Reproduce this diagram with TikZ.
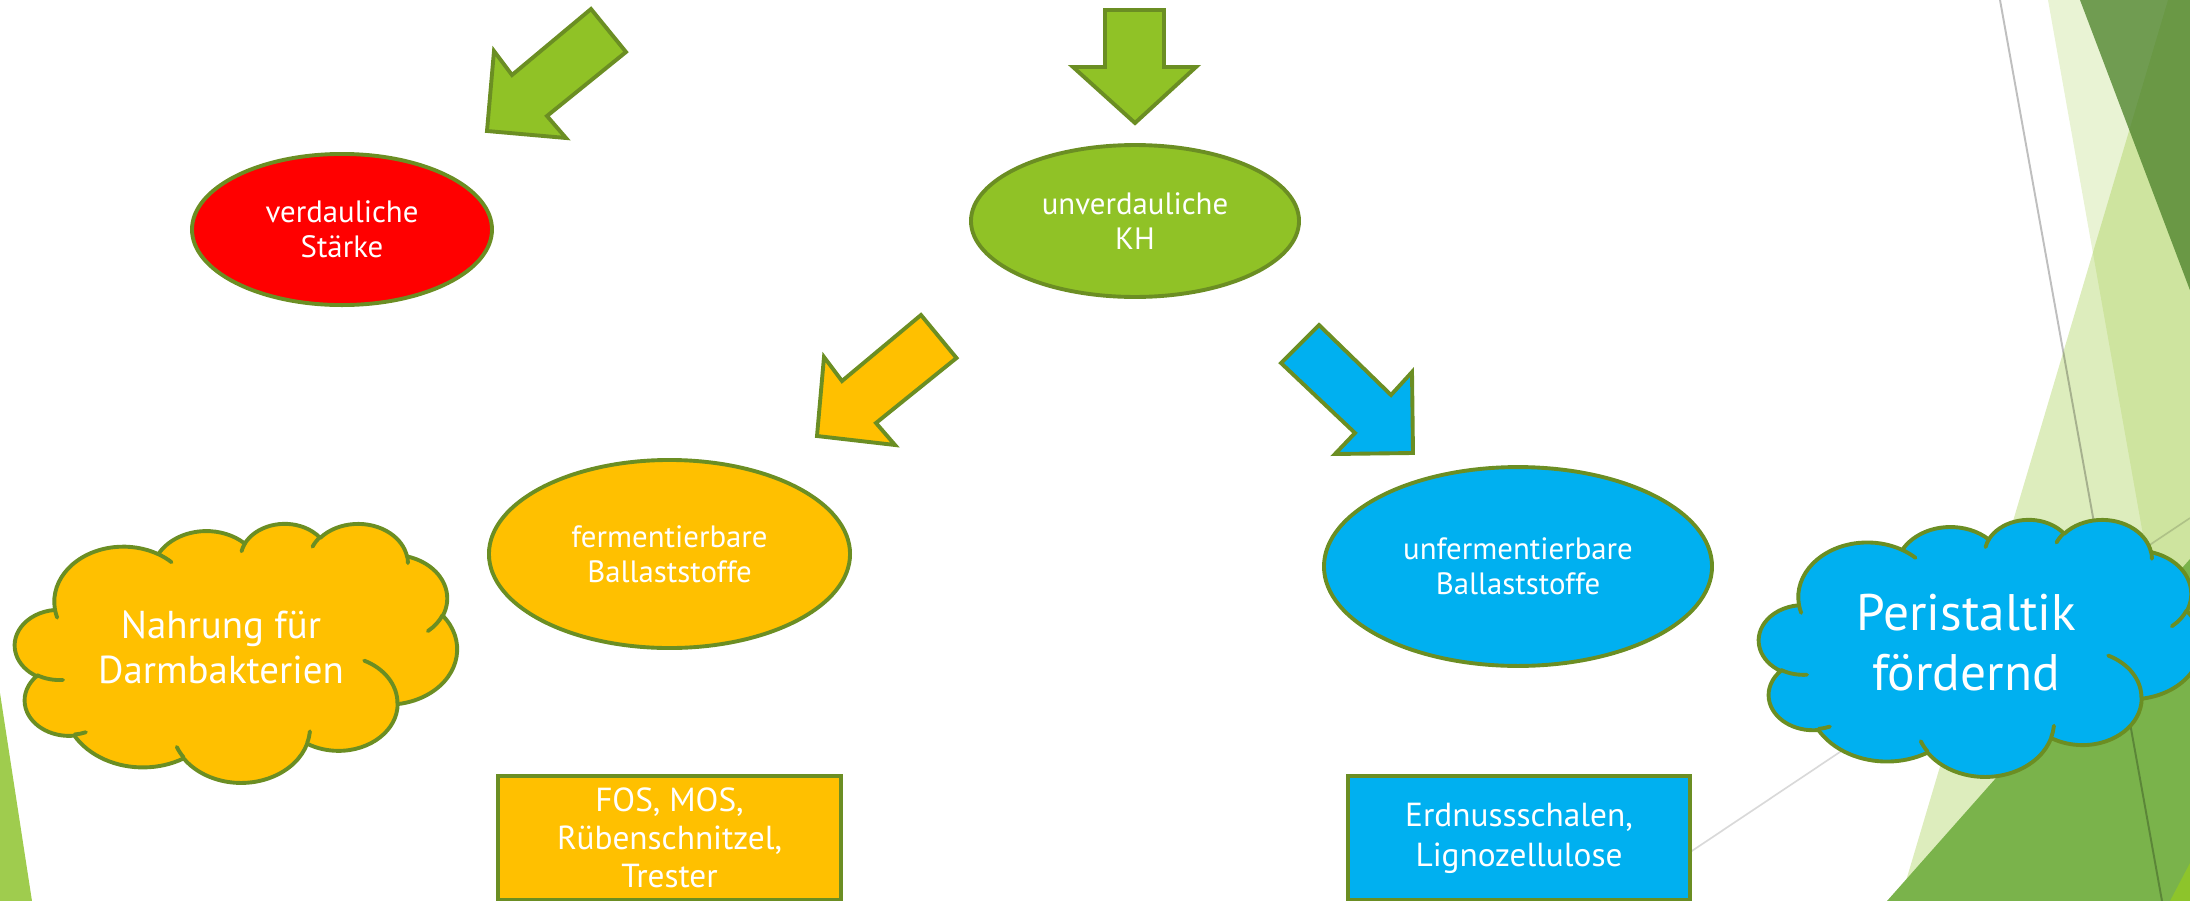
\documentclass[tikz,border=0pt]{standalone}
\usepackage{fontspec}
\setmainfont{PT Sans}
\usetikzlibrary{shapes.geometric}
\definecolor{oline}{HTML}{6B8E23}
\definecolor{kgreen}{HTML}{90C226}
\definecolor{korange}{HTML}{FFC000}
\definecolor{kblue}{HTML}{00B0F0}
\definecolor{kred}{HTML}{FF0000}
\definecolor{facetA}{HTML}{90C226}
\definecolor{facetDark}{RGB}{72,127,39}
\definecolor{facetMid}{RGB}{122,179,75}
\definecolor{facetBright}{RGB}{141,196,43}
\definecolor{facetLeft}{RGB}{159,204,78}
\newcommand\fs[2]{\fontsize{#1}{#2}\selectfont}
\newcommand\ooarc[4]{arc[x radius=#1,y radius=#2,start angle={atan2((#1)*sin(#3),(#2)*cos(#3))},delta angle={mod(atan2((#1)*sin((#3)+(#4)),(#2)*cos((#3)+(#4)))-atan2((#1)*sin(#3),(#2)*cos(#3))-(#4)+900,360)-180+(#4)}]}
\newcommand\drawcloud[5]{%
  \begin{scope}[shift={(#2,#3)},xscale=#4,yscale=#5]
    \filldraw[fill=#1,draw=oline,line width=1.4pt,line join=round]
      (39,143.7) \ooarc{67.53}{91.90}{-190.4875}{123.7805}
      \ooarc{53.33}{72.67}{-144.1024}{89.9452}
      \ooarc{43.65}{59.45}{-145.8079}{99.7230}
      \ooarc{48.57}{65.95}{-130.9861}{117.2417}
      \ooarc{53.33}{72.73}{-78.7089}{109.0269}
      \ooarc{67.75}{92.20}{-46.2673}{130.2690}
      \ooarc{57.85}{78.67}{0.6250}{114.0333}
      \ooarc{67.52}{92.15}{22.4516}{115.1726}
      \ooarc{77.20}{105.43}{66.2426}{75.7110}
      \ooarc{43.60}{59.18}{-274.9421}{146.7356}
      \ooarc{43.45}{59.45}{-246.8285}{152.5189} -- cycle;
    \draw[oline,line width=1.4pt,line cap=round]
      (46.93,261.77) \ooarc{43.45}{59.45}{86.7420}{26.4295}
      (69.28,348.99) \ooarc{43.60}{59.18}{73.6105}{11.4475}
      (164.78,390.90) \ooarc{67.52}{92.15}{137.6242}{14.0811}
      (288.27,347.51) \ooarc{67.52}{92.15}{6.4533}{15.9984}
      (341.29,229.54) \ooarc{57.85}{78.67}{-70.2924}{70.9174}
      (417.98,153.54) \ooarc{53.33}{72.73}{30.3180}{27.7515}
      (383.24,54.26) \ooarc{48.57}{65.95}{-13.7443}{14.8589}
      (290.78,39.52) \ooarc{48.57}{65.95}{-149.1815}{18.1954}
      (221.41,47.20) \ooarc{43.65}{59.45}{-163.4943}{17.6864}
      (140.00,51.92) \ooarc{67.53}{91.90}{-66.7070}{12.3194}
      (41.27,157.89) \ooarc{67.53}{91.90}{157.6544}{11.8582};
  \end{scope}}
\begin{document}
\begin{tikzpicture}[x=0.36pt,y=-0.36pt,
  ol/.style={draw=oline,line width=1.4pt},
  ell/.style={ellipse,ol,inner sep=0pt,text=white,align=center,font=\fs{11.1}{12.6}},
  box/.style={rectangle,ol,inner sep=0pt,text=white,align=center},
  cloudtext/.style={text=white,align=center,inner sep=0pt}]
\useasboundingbox (0,0) rectangle (2190,901);
\clip (0,0) rectangle (2190,901);
% background facets
\fill[facetA,opacity=0.2] (2048,0) -- (2260,0) -- (2260,901) -- (2208,901) -- cycle;
\fill[facetA,opacity=0.3] (2168,0) -- (2260,0) -- (2260,901) -- (1900,901) -- cycle;
\fill[facetDark,opacity=0.75] (2080,0) -- (2260,0) -- (2260,475) -- cycle;
\fill[facetMid] (1887,901) -- (2260,480) -- (2260,901) -- cycle;
\fill[facetBright] (2170,901) -- (2200,844) -- (2200,901) -- cycle;
\fill[facetLeft] (0,693) -- (32,901) -- (-5,901) -- cycle;
\draw[black,opacity=0.25,line width=0.7pt] (2000,0) -- (2162,901);
\draw[black,opacity=0.15,line width=0.6pt] (1617,901) -- (2190,518);
% block arrows
\filldraw[fill=kgreen,ol] (591,9) -- (626,52) -- (547,116) -- (566,138) -- (487,131) -- (494,51) -- (512,75) -- cycle;
\filldraw[fill=kgreen,ol] (1105,10) -- (1164,10) -- (1164,67) -- (1196,67) -- (1135,123) -- (1073,67) -- (1105,67) -- cycle;
\filldraw[fill=korange,ol] (921,315) -- (956.5,358) -- (876,423) -- (895,445) -- (817,436) -- (824,357) -- (842,381) -- cycle;
\filldraw[fill=kblue,ol] (1319,325) -- (1391,395) -- (1412,372) -- (1413,453) -- (1335,454) -- (1355,433) -- (1281,363) -- cycle;
% nodes
\node[ell,fill=kred,minimum width=108pt,minimum height=54.4pt] (vs) at (342,229.5) {verdauliche\\Stärke};
\node[ell,fill=kgreen,minimum width=118.1pt,minimum height=54.7pt] (kh) at (1135,221) {unverdauliche\\KH};
\node[ell,fill=korange,minimum width=130pt,minimum height=67.7pt] (fb) at (669.5,554) {fermentierbare\\Ballaststoffe};
\node[ell,fill=kblue,minimum width=139.7pt,minimum height=71.6pt] (ub) at (1518,566.5) {unfermentierbare\\Ballaststoffe};
\node[box,fill=korange,minimum width=123.5pt,minimum height=44.6pt,font=\fs{12}{13.7}] (fx) at (669.5,838) {FOS, MOS,\\Rübenschnitzel,\\Trester};
\node[box,fill=kblue,minimum width=123.1pt,minimum height=44.6pt,font=\fs{12}{14.4}] (ex) at (1519,838) {Erdnussschalen,\\Lignozellulose};
% clouds
\drawcloud{korange}{15}{523}{1.02315}{0.59954}
\node[cloudtext,font=\fs{14}{16.2}] (nd) at (221,647.5) {Nahrung für\\Darmbakterien};
\drawcloud{kblue}{1759}{519}{1.02315}{0.59491}
\node[cloudtext,font=\fs{18.5}{21.6}] (pf) at (1966,643) {Peristaltik\\fördernd};
\end{tikzpicture}
\end{document}
